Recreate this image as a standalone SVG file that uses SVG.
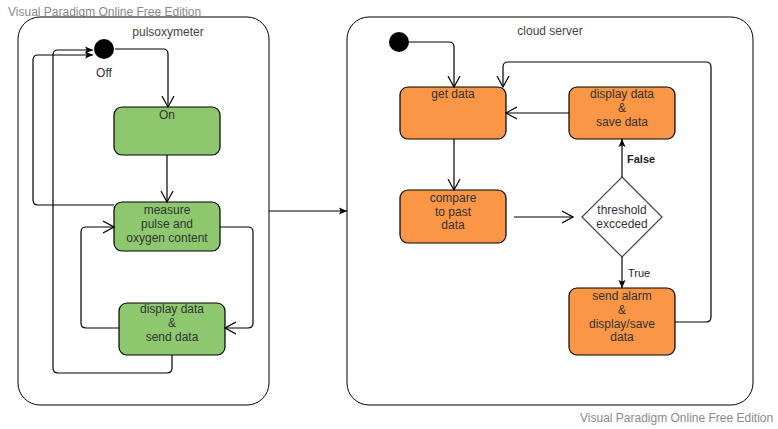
<svg xmlns="http://www.w3.org/2000/svg" width="778" height="429" viewBox="0 0 778 429">
  <style>
    .frame { fill: #ffffff; stroke: #000000; stroke-width: 1; }
    .green { fill: #8dc86e; stroke: #000000; stroke-width: 1.2; }
    .orange { fill: #fa9645; stroke: #000000; stroke-width: 1.2; }
    .choice { fill: #ffffff; stroke: #444444; stroke-width: 1.2; }
    .dot { fill: #000000; }
    .t { font-family: "Liberation Sans", Arial, sans-serif; font-size: 12px; fill: #333333; text-anchor: middle; }
    .title { font-family: "Liberation Sans", Arial, sans-serif; font-size: 12px; fill: #444444; text-anchor: middle; }
    .lbl { font-family: "Liberation Sans", Arial, sans-serif; font-size: 11px; fill: #222222; }
    .wm { font-family: "Liberation Sans", Arial, sans-serif; font-size: 12px; fill: #8a8a8a; }
    .edge { fill: none; stroke: #000000; stroke-width: 1.2; }
  </style>
  <defs>
    <marker id="open" viewBox="0 0 12 14" refX="11" refY="7" markerWidth="12" markerHeight="14" orient="auto" markerUnits="userSpaceOnUse">
      <path d="M0,1 L11,7 L0,13" fill="none" stroke="#000000" stroke-width="1.2"/>
    </marker>
    <marker id="solid" viewBox="0 0 10 10" refX="9" refY="5" markerWidth="9" markerHeight="9" orient="auto" markerUnits="userSpaceOnUse">
      <path d="M0,1 L9,5 L0,9 L2,5 Z" fill="#000000"/>
    </marker>
  </defs>

  <!-- edition notes -->
  <text class="wm" x="8" y="16">Visual Paradigm Online Free Edition</text>
  <text class="wm" x="580" y="422">Visual Paradigm Online Free Edition</text>

  <!-- composite states -->
  <g id="pulsoxymeter">
    <rect class="frame" x="18" y="17" width="251" height="388" rx="22" ry="22"/>
    <text class="title" x="168" y="36">pulsoxymeter</text>
  </g>
  <g id="cloud-server">
    <rect class="frame" x="347" y="17" width="406" height="388" rx="22" ry="22"/>
    <text class="title" x="550" y="35">cloud server</text>
  </g>

  <!-- pulsoxymeter states -->
  <g id="off">
    <circle class="dot" cx="104" cy="49" r="10"/>
    <text class="t" x="104" y="77">Off</text>
  </g>
  <g id="on">
    <rect class="green" x="114" y="107" width="106" height="48" rx="8" ry="8"/>
    <text class="t" x="167" y="119">On</text>
  </g>
  <g id="measure">
    <rect class="green" x="114" y="202" width="106" height="49" rx="8" ry="8"/>
    <text class="t" x="167" y="214">measure</text>
    <text class="t" x="167" y="228">pulse and</text>
    <text class="t" x="167" y="242">oxygen content</text>
  </g>
  <g id="display-send">
    <rect class="green" x="119" y="303" width="106" height="52" rx="8" ry="8"/>
    <text class="t" x="172" y="313">display data</text>
    <text class="t" x="172" y="327">&amp;</text>
    <text class="t" x="172" y="341">send data</text>
  </g>

  <!-- cloud server states -->
  <g id="start">
    <circle class="dot" cx="399" cy="42" r="10"/>
  </g>
  <g id="get-data">
    <rect class="orange" x="400" y="87" width="106" height="52" rx="8" ry="8"/>
    <text class="t" x="453" y="98">get data</text>
  </g>
  <g id="display-save">
    <rect class="orange" x="569" y="87" width="106" height="52" rx="8" ry="8"/>
    <text class="t" x="622" y="98">display data</text>
    <text class="t" x="622" y="112">&amp;</text>
    <text class="t" x="622" y="126">save data</text>
  </g>
  <g id="compare">
    <rect class="orange" x="400" y="190" width="106" height="53" rx="8" ry="8"/>
    <text class="t" x="453" y="202">compare</text>
    <text class="t" x="453" y="216">to past</text>
    <text class="t" x="453" y="229">data</text>
  </g>
  <g id="threshold">
    <polygon class="choice" points="622,177 662,217 622,257 582,217"/>
    <text class="t" x="622" y="214">threshold</text>
    <text class="t" x="622" y="228">excceded</text>
  </g>
  <g id="send-alarm">
    <rect class="orange" x="569" y="288" width="106" height="67" rx="8" ry="8"/>
    <text class="t" x="622" y="300">send alarm</text>
    <text class="t" x="622" y="314">&amp;</text>
    <text class="t" x="622" y="328">display/save</text>
    <text class="t" x="622" y="341">data</text>
  </g>

  <!-- transitions -->
  <g id="connectors">
    <path class="edge" d="M115,49 H163 Q168,49 168,54 V107" marker-end="url(#open)"/>
    <path class="edge" d="M167,155 V202" marker-end="url(#open)"/>
    <path class="edge" d="M220,227 H248 Q253,227 253,232 V323 Q253,328 248,328 H225" marker-end="url(#open)"/>
    <path class="edge" d="M119,328 H86 Q81,328 81,323 V232 Q81,227 86,227 H114" marker-end="url(#open)"/>
    <path class="edge" d="M114,205 H38 Q33,205 33,200 V60 Q33,55 38,55 H93" marker-end="url(#solid)"/>
    <path class="edge" d="M172,355 V368 Q172,373 167,373 H58 Q53,373 53,368 V55 Q53,50 58,50 H93" marker-end="url(#solid)"/>
    <path class="edge" d="M269,211 H347" marker-end="url(#solid)"/>

    <path class="edge" d="M409,42 H449 Q454,42 454,47 V87" marker-end="url(#open)"/>
    <path class="edge" d="M454,139 V190" marker-end="url(#open)"/>
    <path class="edge" d="M514,217 H573" marker-end="url(#open)"/>
    <path class="edge" d="M569,113 H506" marker-end="url(#open)"/>
    <path class="edge" d="M622,177 V139" marker-end="url(#solid)"/>
    <path class="edge" d="M622,257 V288" marker-end="url(#solid)"/>
    <path class="edge" d="M675,322 H706 Q711,322 711,317 V67 Q711,62 706,62 H508 Q503,62 503,67 V87" marker-end="url(#open)"/>

    <text class="lbl" x="627" y="163" font-weight="bold">False</text>
    <text class="lbl" x="628" y="277">True</text>
  </g>
</svg>
